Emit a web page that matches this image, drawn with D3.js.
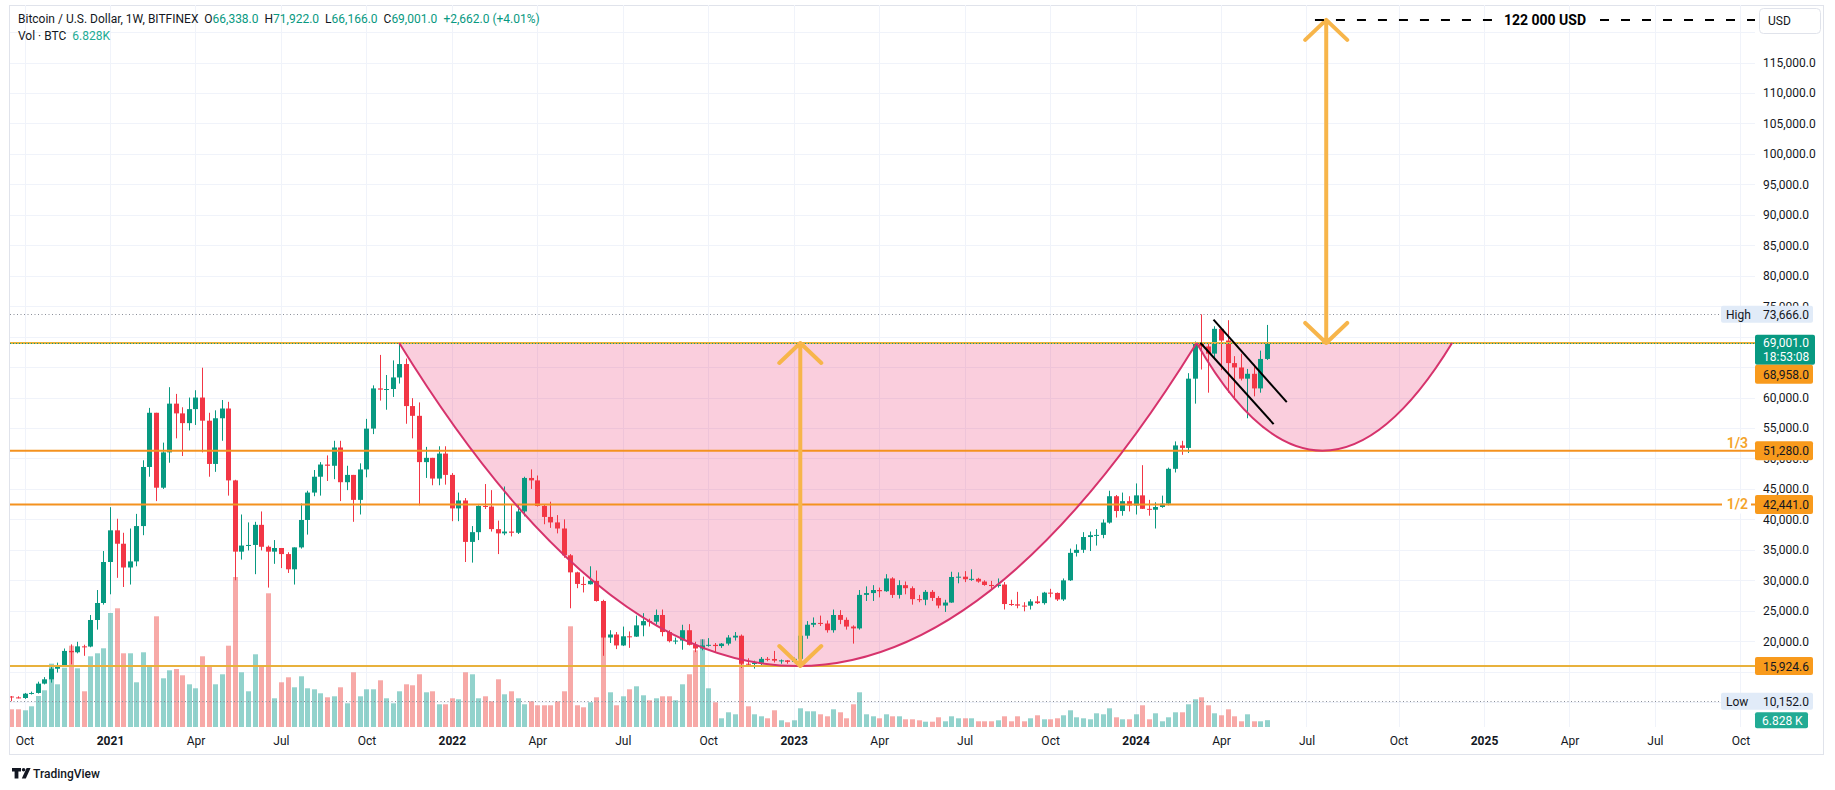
<!DOCTYPE html>
<html lang="en">
<head>
<meta charset="UTF-8">
<title>Bitcoin / U.S. Dollar, 1W, BITFINEX</title>
<style>
  html, body { margin: 0; padding: 0; background: #fff; }
  svg { display: block; font-family: Roboto, "Noto Sans", sans-serif; }
</style>
</head>
<body>
<svg id="chart" width="1835" height="790"></svg>
<script src="https://cdnjs.cloudflare.com/ajax/libs/d3/7.8.5/d3.min.js"></script>
<script>

// weekly candles [open, high, low, close], first week starts Mon 2020-09-21
var ohlc2020 = [
  [10920,11000,10140,10770],[10770,10950,10620,10670],[10670,11500,10530,11380],[11380,11720,11240,11500],
  [11500,13350,11400,13030],[13030,14100,12900,13740],[13740,15960,13200,15480],[15480,16480,14850,16060],
  [16060,18800,15800,18400],[18400,19480,16200,18180],[18180,19900,18000,19150],[19150,19420,17600,19120],
  [19120,24300,19000,23480],[23480,28400,21900,26270],[26270,34800,26000,33000]
];
var ohlc2021 = [
  [33000,42000,27700,38200],[38200,40100,30400,36000],[36000,37800,28900,32100],[32100,38500,29300,33100],
  [33100,40900,32300,38900],[38900,49700,37400,48600],[48600,58300,47000,57500],[57500,57500,43000,45200],
  [45200,52600,45000,51000],[51000,61700,49300,59000],[59000,60600,53300,57400],[57400,58400,50400,55800],
  [55800,60000,54600,58100],[58100,61200,55500,60000],[60000,64900,51000,56200],[56200,57500,47000,49100],
  [49100,57900,47800,56600],[56600,59600,52900,58200],[58200,59300,43900,46400],[46400,46500,30000,34700],
  [34700,40800,33400,35700],[35700,39500,34900,35800],[35800,39600,31000,39100],[39100,41300,34900,35500],
  [35500,35700,28800,34700],[34700,36600,32700,35300],[35300,35300,32000,34300],[34300,34600,31200,31800],
  [31800,35400,29300,35400],[35400,42600,35200,39900],[39900,44700,37500,44400],[44400,48100,43800,47000],
  [47000,49400,43900,49000],[49000,50500,46300,48800],[48800,52900,46600,51800],[51800,52900,43000,46100],
  [46100,48800,44800,47300],[47300,47300,39600,43200],[43200,49200,40800,48200],[48200,56500,46900,54900],
  [54900,62000,54000,61500],[61500,67000,59500,61300],[61300,63700,58000,61400],[61400,66100,60100,63300],
  [63300,69000,62300,65500],[65500,66400,55700,58600],[58600,59900,53300,57000],[57000,59200,42300,49400],
  [49400,51900,46800,50100],[50100,50100,45600,46700],[46700,52000,45600,50800],[50800,52000,45700,47300]
];
var ohlc2022 = [
  [47300,47600,39700,41800],[41800,44400,39700,43100],[43100,43500,33000,36300],[36300,38900,32900,37900],
  [37900,42300,36600,42200],[42200,45800,41700,42100],[42100,44800,38000,38400],[38400,39800,34300,37700],
  [37700,45400,37400,38000],[38000,42500,37200,37800],[37800,42400,37600,41300],[41300,47000,40500,46800],
  [46800,48200,45000,46400],[46400,47200,42100,42200],[42200,42400,39200,40400],[40400,42900,38600,39500],
  [39500,40700,37700,38500],[38500,40000,33700,34100],[34100,34300,25400,31300],[31300,31400,28700,29400],
  [29400,30600,28000,29350],[29350,32300,29300,29900],[29900,31600,26500,26600],[26600,26800,17600,20600],
  [20600,21800,19700,21100],[21100,21500,18700,19300],[19300,22400,19200,20800],[20800,21600,18900,20750],
  [20750,24200,20700,22600],[22600,24600,20800,23300],[23300,23700,22400,23200],[23200,25200,22700,24300],
  [24300,25200,20800,21500],[21500,21800,19800,20000],[20000,20600,19500,20100],[20100,22700,18600,21800],
  [21800,22800,19300,19400],[19400,19900,18200,18800],[18800,20300,18500,19300],[19300,20500,19100,19400],
  [19400,19700,18200,19200],[19200,19700,18900,19600],[19600,21000,19300,20600],[20600,21500,20100,20900],
  [20900,21100,15600,16300],[16300,17200,15800,16250],[16250,16800,15500,16450],[16450,17400,16000,17100],
  [17100,17400,16700,17080],[17080,18400,16500,16800],[16800,17000,16300,16850],[16850,16900,16300,16600]
];
var ohlc2023 = [
  [16600,17300,16500,17100],[17100,21400,17000,20900],[20900,23300,20400,22700],[22700,23900,22300,23000],
  [23000,24200,22500,22900],[22900,23400,21400,21800],[21800,25200,21400,24300],[24300,25100,22800,23500],
  [23500,23900,21900,22400],[22400,22600,19600,22100],[22100,28400,21900,27600],[27600,29000,26600,27900],
  [27900,29200,26600,28400],[28400,28800,27200,28200],[28200,31000,28100,30300],[30300,30500,27100,27600],
  [27600,30000,27000,29200],[29200,29800,27700,28700],[28700,29000,26000,26900],[26900,27600,26400,26800],
  [26800,28400,25900,28100],[28100,28400,26600,27100],[27100,27400,25400,25850],[25850,26800,24800,26340],
  [26340,31400,26300,30540],[30540,31300,29500,30590],[30590,31500,29700,30170],[30170,31800,29900,30240],
  [30240,30400,29600,29790],[29790,30000,29100,29230],[29230,29900,28600,29050],[29050,30300,28800,29300],
  [29300,29700,25200,26100],[26100,26800,25800,26050],[26050,28100,25400,25840],[25840,26400,24900,25830],
  [25830,26900,25200,26530],[26530,27400,26100,26250],[26250,28100,26000,27970],[27970,28600,27200,27920],
  [27920,28000,26600,26850],[26850,30300,26600,29990],[29990,35200,29900,34500],[34500,35900,33900,35000],
  [35000,37900,34500,37100],[37100,38000,34800,37400],[37400,38400,35700,37450],[37450,40000,36900,39470],
  [39470,44700,39300,43800],[43800,44000,40300,41370],[41370,44400,40600,42990],[42990,43800,41300,42280]
];
var ohlc2024 = [
  [42280,45900,40800,43940],[43940,48900,41700,41730],[41730,43200,40600,41580],[41580,42800,38500,42030],
  [42030,43900,41900,42580],[42580,48500,42300,48300],[48300,52800,47700,52140],[52140,52900,50600,51730],
  [51730,64000,50900,63100],[63100,69200,59000,68950],[68950,73666,64600,68390],[68390,68900,60800,67210],
  [67210,71700,66500,71280],[71280,71300,64500,69360],[69360,72700,60800,65660],[65660,66800,59600,64940],
  [64940,67200,62800,63100],[63100,64700,56600,63900],[63900,65400,60200,61500],[61500,67700,60800,66338],
  [66338,71922,66166,69001]
];

// weekly volume, thousands of BTC
var vol2020 = [17.7,17.7,16.7,20.7,31,36.7,63.3,42.7,59.3,81.3,58.7,35.7,70.7,73.7,78.7];
var vol2021 = [114,118.7,73.7,73.7,44.7,74.7,60.7,110.7,48.7,56.7,58,51.7,42.7,38.7,70.7,61.3,42.7,52.7,81.3,150,
  54.7,35.7,72.7,60.7,133.7,28.7,44.7,49.7,39.7,50.7,38.7,37.7,33.7,29.7,30.7,39.7,23.7,54.7,30.7,37.7,
  37.7,46.7,28.7,23.7,35.7,42.7,41.7,52.7,34.7,35.7,22.7,22.7];
var vol2022 = [28.7,27.7,54.7,52.7,28.7,30.7,25.7,47.7,32.7,35.7,28.7,22.7,25.7,21.7,21.7,21.7,25.7,35.7,100.7,21.7,
  19.7,24.7,29.7,120,34.7,21.7,30.7,37.7,40.7,31.7,26.7,28.7,30.7,30.7,26.7,42.7,52.7,76.7,87.7,38.7,
  24.7,8.7,14.7,12.7,85,20.7,12.7,10.7,8.7,16.7,6.7,4.7];
var vol2023 = [6.7,18.7,15.7,15.7,12.7,10.7,17.7,14.7,8.7,22.7,34.7,12.7,10.7,8.7,12.7,10.7,10.7,7.7,7.7,6.7,
  5.3,5.3,9.7,5.7,10.7,8.7,8.7,8.7,5.7,5.7,5.7,6.7,10.7,5.7,10.7,5.7,8.7,11.7,7.7,7.7,
  8.7,11.7,16.7,9.7,8.7,7.7,13.7,12.7,18.7,9.7,7.7,7.7];
var vol2024 = [12.7,21.7,7.7,13.7,5.7,9.7,14.7,14.7,22.7,27.7,29.7,21.7,13.7,11.7,17.7,10.7,5.7,12.7,5.7,5.7,6.828];

// grid levels; labels hidden behind the price-scale tags are left out
var priceTicks = [10000,15000,20000,25000,30000,35000,40000,45000,50000,55000,60000,65000,70000,75000,
  80000,85000,90000,95000,100000,105000,110000,115000,120000];
var hiddenTicks = [10000, 15000, 65000, 70000, 120000];
var timeTicks = ["2020-10-05","2021-01-04","2021-04-05","2021-07-05","2021-10-04","2022-01-03","2022-04-04",
  "2022-07-04","2022-10-03","2023-01-02","2023-04-03","2023-07-03","2023-10-02","2024-01-01","2024-04-01",
  "2024-07-01","2024-10-07","2025-01-06","2025-04-07","2025-07-07","2025-10-06"];
var timeLabels = ["Oct","2021","Apr","Jul","Oct","2022","Apr","Jul","Oct","2023","Apr","Jul","Oct","2024",
  "Apr","Jul","Oct","2025","Apr","Jul","Oct"];

// horizontal levels drawn on the chart
var levels = [68958, 51280, 42441, 15924.6];
var levelText = ["68,958.0", "51,280.0", "42,441.0", "15,924.6"];
var rangeHigh = 73666, rangeLow = 10152;
var lastClose = 69001;

// drawings: [date, price]
var cupBig = [["2021-11-08", 68958], ["2023-01-06", 15924.6], ["2024-03-06", 68958]];
var cupSmall = [["2024-03-06", 68958], ["2024-07-18", 51280], ["2024-12-03", 68958]];
var flagTop = [["2024-03-24", 72780], ["2024-06-10", 59250]];
var flagBottom = [["2024-03-10", 68990], ["2024-05-27", 55630]];
var arrowCup = [["2023-01-09", 15924.6], ["2023-01-09", 68958]];
var arrowTarget = [["2024-07-22", 68958], ["2024-07-22", 122000]];
var target = { start: "2024-07-10", price: 122000, label: "122 000 USD" };

var parse = d3.utcParse("%Y-%m-%d");
var firstWeek = parse("2020-09-21");
var vols = [].concat(vol2020, vol2021, vol2022, vol2023, vol2024);
var bars = [].concat(ohlc2020, ohlc2021, ohlc2022, ohlc2023, ohlc2024).map(function (v, i) {
  return { date: d3.utcDay.offset(firstWeek, 7 * i), o: v[0], h: v[1], l: v[2], c: v[3], v: vols[i] };
});

var green = '#089981', red = '#f23645', text = '#131722';
var pane = { left: 10, right: 1755, top: 5, bottom: 727 };

var x = d3.scaleUtc().domain([parse("2021-01-04"), parse("2025-01-06")]).range([110, 1484]);
var y = d3.scaleLinear().domain([0, 120000]).range([763, 32.1]);
var yVol = d3.scaleLinear().domain([0, 150]).range([727, 577]);

var svg = d3.select('#chart');

svg.append('rect')
  .attr('x', 9.5).attr('y', 5.5).attr('width', 1814).attr('height', 749)
  .attr('fill', '#fff').attr('stroke', '#e0e3eb');

svg.append('clipPath').attr('id', 'paneClip').append('rect')
  .attr('x', pane.left).attr('y', pane.top)
  .attr('width', pane.right - pane.left).attr('height', pane.bottom - pane.top);

var g = svg.append('g').attr('clip-path', 'url(#paneClip)');

// grid
g.selectAll('.vgrid').data(timeTicks).enter().append('line')
  .attr('x1', function (d) { return Math.round(x(parse(d))) + 0.5; })
  .attr('x2', function (d) { return Math.round(x(parse(d))) + 0.5; })
  .attr('y1', pane.top).attr('y2', pane.bottom)
  .attr('stroke', '#f0f3fa');
g.selectAll('.hgrid').data(priceTicks).enter().append('line')
  .attr('x1', pane.left).attr('x2', pane.right)
  .attr('y1', function (d) { return Math.round(y(d)) + 0.5; })
  .attr('y2', function (d) { return Math.round(y(d)) + 0.5; })
  .attr('stroke', '#f0f3fa');

// volume
g.selectAll('.vol').data(bars).enter().append('rect')
  .attr('x', function (d) { return Math.round(x(d.date)) - 2; })
  .attr('width', 5)
  .attr('y', function (d) { return yVol(d.v); })
  .attr('height', function (d) { return yVol(0) - yVol(d.v); })
  .attr('fill', function (d) { return d.c >= d.o ? 'rgba(38,166,154,0.5)' : 'rgba(239,83,80,0.5)'; });

function pt(p) { return [x(parse(p[0])), y(p[1])]; }

function cupPath(c, close) {
  var p0 = pt(c[0]), b = pt(c[1]), p2 = pt(c[2]);
  var c1 = [2 * b[0] - (p0[0] + p2[0]) / 2, 2 * b[1] - (p0[1] + p2[1]) / 2];
  return 'M' + p0 + 'Q' + c1 + ' ' + p2 + (close ? 'Z' : '');
}

// cup fills below candles
[cupBig, cupSmall].forEach(function (c) {
  g.append('path').attr('d', cupPath(c, true)).attr('fill', 'rgba(233,30,99,0.22)');
});

// candles
var candle = g.selectAll('.candle').data(bars).enter().append('g');
candle.append('line')
  .attr('x1', function (d) { return Math.round(x(d.date)) + 0.5; })
  .attr('x2', function (d) { return Math.round(x(d.date)) + 0.5; })
  .attr('y1', function (d) { return y(d.h); })
  .attr('y2', function (d) { return y(d.l); })
  .attr('stroke', function (d) { return d.c >= d.o ? green : red; });
candle.append('rect')
  .attr('x', function (d) { return Math.round(x(d.date)) - 2; })
  .attr('width', 5)
  .attr('y', function (d) { return y(Math.max(d.o, d.c)); })
  .attr('height', function (d) { return Math.max(1, Math.abs(y(d.o) - y(d.c))); })
  .attr('fill', function (d) { return d.c >= d.o ? green : red; });

// level lines
var levelColor = ['#e8b13c', '#f4921f', '#f4921f', '#e8b13c'];
g.selectAll('.level').data(levels).enter().append('line')
  .attr('x1', pane.left).attr('x2', pane.right)
  .attr('y1', function (d) { return y(d); }).attr('y2', function (d) { return y(d); })
  .attr('stroke', function (d, i) { return levelColor[i]; })
  .attr('stroke-width', 2);

// current price line, high / low lines
g.append('line').attr('x1', pane.left).attr('x2', pane.right)
  .attr('y1', Math.round(y(lastClose)) + 0.5).attr('y2', Math.round(y(lastClose)) + 0.5)
  .attr('stroke', green).attr('stroke-dasharray', '1,2');
[rangeHigh, rangeLow].forEach(function (v) {
  g.append('line').attr('x1', pane.left).attr('x2', 1721)
    .attr('y1', Math.round(y(v)) + 0.5).attr('y2', Math.round(y(v)) + 0.5)
    .attr('stroke', '#8a8e99').attr('stroke-dasharray', '1,2.5');
});

// cup outlines
[cupBig, cupSmall].forEach(function (c) {
  g.append('path').attr('d', cupPath(c, false))
    .attr('fill', 'none').attr('stroke', '#d6336c').attr('stroke-width', 2);
});

// flag
[flagTop, flagBottom].forEach(function (l) {
  var a = pt(l[0]), b = pt(l[1]);
  g.append('line').attr('x1', a[0]).attr('y1', a[1]).attr('x2', b[0]).attr('y2', b[1])
    .attr('stroke', '#000').attr('stroke-width', 2);
});

// double arrows
function doubleArrow(a) {
  var lo = pt(a[0]), hi = pt(a[1]);
  var d = 'M' + hi[0] + ',' + hi[1] + 'V' + lo[1] +
    'M' + (hi[0] - 21) + ',' + (hi[1] + 20) + 'L' + hi[0] + ',' + hi[1] + 'L' + (hi[0] + 21) + ',' + (hi[1] + 20) +
    'M' + (lo[0] - 21) + ',' + (lo[1] - 20) + 'L' + lo[0] + ',' + lo[1] + 'L' + (lo[0] + 21) + ',' + (lo[1] - 20);
  g.append('path').attr('d', d).attr('fill', 'none')
    .attr('stroke', '#f7b54a').attr('stroke-width', 4).attr('stroke-linecap', 'round')
    .attr('stroke-linejoin', 'round');
}
doubleArrow(arrowCup);
doubleArrow(arrowTarget);

// target line with label
var ty = y(target.price);
var tx0 = x(parse(target.start));
g.append('line').attr('x1', tx0).attr('x2', 1498).attr('y1', ty).attr('y2', ty)
  .attr('stroke', '#000').attr('stroke-width', 2).attr('stroke-dasharray', '9,12');
g.append('line').attr('x1', 1600).attr('x2', pane.right).attr('y1', ty).attr('y2', ty)
  .attr('stroke', '#000').attr('stroke-width', 2).attr('stroke-dasharray', '9,12');
g.append('text').attr('x', 1545).attr('y', ty + 5).attr('text-anchor', 'middle')
  .attr('font-size', 14).attr('font-weight', 700).attr('fill', '#000').text(target.label);

// level captions
g.append('text').attr('x', 1748).attr('y', y(51280) - 3).attr('text-anchor', 'end')
  .attr('font-size', 14).attr('font-weight', 600).attr('fill', '#f4a32a').text('1/3');
g.append('rect').attr('x', 1722).attr('y', y(42441) - 9).attr('width', 29).attr('height', 18).attr('fill', '#fff');
g.append('text').attr('x', 1748).attr('y', y(42441) + 5).attr('text-anchor', 'end')
  .attr('font-size', 14).attr('font-weight', 600).attr('fill', '#f4a32a').text('1/2');

// price axis
var yAxis = svg.append('g').attr('transform', 'translate(1763,0)')
  .call(d3.axisRight(y)
    .tickValues(priceTicks.filter(function (v) { return hiddenTicks.indexOf(v) < 0; }))
    .tickSize(0).tickPadding(0).tickFormat(d3.format(',.1f')));
yAxis.select('.domain').remove();
yAxis.selectAll('text').attr('font-size', 12).attr('fill', text).attr('font-family', 'Roboto, sans-serif');

// time axis
var xAxis = svg.append('g').attr('transform', 'translate(0,' + pane.bottom + ')')
  .call(d3.axisBottom(x).tickValues(timeTicks.map(parse)).tickSize(0).tickPadding(9)
    .tickFormat(function (d, i) { return timeLabels[i]; }));
xAxis.select('.domain').remove();
xAxis.selectAll('text').attr('font-size', 12).attr('fill', text).attr('font-family', 'Roboto, sans-serif')
  .attr('font-weight', function (d, i) { return /^\d+$/.test(timeLabels[i]) ? 700 : 400; });

// price scale labels
function tag(yc, h, x0, w, fill, color, lines) {
  svg.append('rect').attr('x', x0).attr('y', yc - h / 2).attr('width', w).attr('height', h)
    .attr('rx', 2).attr('fill', fill);
  lines.forEach(function (l) {
    svg.append('text').attr('x', l[0]).attr('y', yc + l[2]).attr('font-size', 12)
      .attr('fill', color).text(l[1]);
  });
}
var lightTag = '#e1ebf8', orangeTag = '#f89a1c';
tag(y(rangeHigh), 17, 1721, 92, lightTag, text, [[1726, 'High', 4.5], [1763, d3.format(',.1f')(rangeHigh), 4.5]]);
var cy = y(lastClose);
svg.append('rect').attr('x', 1755).attr('y', cy - 8).attr('width', 60).attr('height', 30).attr('rx', 2).attr('fill', green);
svg.append('text').attr('x', 1763).attr('y', cy + 4.5).attr('font-size', 12).attr('fill', '#fff').text(d3.format(',.1f')(lastClose));
svg.append('text').attr('x', 1763).attr('y', cy + 18.5).attr('font-size', 12).attr('fill', '#fff').text('18:53:08');
tag(cy + 22 + 9.5, 19, 1755, 58, orangeTag, text, [[1763, levelText[0], 4.5]]);
tag(y(levels[1]), 19, 1755, 58, orangeTag, text, [[1763, levelText[1], 4.5]]);
tag(y(levels[2]), 19, 1755, 58, orangeTag, text, [[1763, levelText[2], 4.5]]);
tag(y(levels[3]), 18, 1755, 58, orangeTag, text, [[1763, levelText[3], 4.5]]);
tag(y(rangeLow), 17, 1721, 92, lightTag, text, [[1726, 'Low', 4.5], [1763, d3.format(',.1f')(rangeLow), 4.5]]);
tag(yVol(bars[bars.length - 1].v), 16, 1755, 53, '#22ab94', '#fff', [[1762, '6.828 K', 4.5]]);

// currency button
svg.append('rect').attr('x', 1759.5).attr('y', 8.5).attr('width', 61).attr('height', 25).attr('rx', 4)
  .attr('fill', '#fff').attr('stroke', '#e0e3eb');
svg.append('text').attr('x', 1768).attr('y', 25).attr('font-size', 12).attr('fill', text).text('USD');

// legend
var last = bars[bars.length - 1];
var fmt = d3.format(',.1f');
var leg = svg.append('text').attr('x', 18).attr('y', 23).attr('font-size', 12).attr('fill', text);
leg.append('tspan').text('Bitcoin / U.S. Dollar, 1W, BITFINEX');
[['O', last.o], ['H', last.h], ['L', last.l], ['C', last.c]].forEach(function (p) {
  leg.append('tspan').attr('dx', 6).text(p[0]);
  leg.append('tspan').attr('fill', green).text(fmt(p[1]));
});
leg.append('tspan').attr('dx', 6).attr('fill', green).text('+2,662.0 (+4.01%)');
var leg2 = svg.append('text').attr('x', 18).attr('y', 40).attr('font-size', 12).attr('fill', text);
leg2.append('tspan').text('Vol \u00b7 BTC');
leg2.append('tspan').attr('dx', 6).attr('fill', '#22ab94').text('6.828K');

// watermark
var logo = svg.append('g').attr('transform', 'translate(12,768)').attr('fill', text);
logo.append('path').attr('d', 'M0 0H9V3.4H6.4V10.5H2.6V3.4H0Z');
logo.append('circle').attr('cx', 11.6).attr('cy', 1.8).attr('r', 1.8);
logo.append('path').attr('d', 'M14.6 0H18.6L13.8 10.5H9.8Z');
svg.append('text').attr('x', 33).attr('y', 778).attr('font-size', 12).attr('font-weight', 500)
  .attr('fill', text).text('TradingView');

</script>
</body>
</html>
